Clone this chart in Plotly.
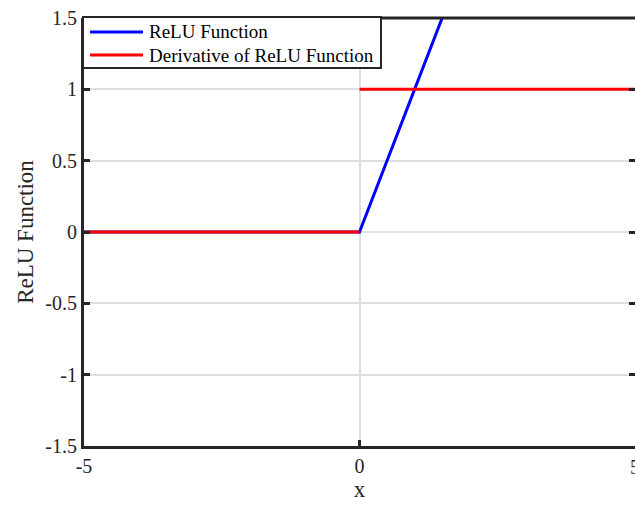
import plotly.graph_objects as go

# ReLU and its derivative, sampled at the breakpoints
x_relu = [-5, 0, 5]
y_relu = [0, 0, 5]

x_deriv = [-5, 0, None, 0, 5]
y_deriv = [0, 0, None, 1, 1]

x_ticks = [-5, 0, 5]
x_tick_text = ["-5", "0", "5"]
y_ticks = [-1.5, -1, -0.5, 0, 0.5, 1, 1.5]
y_tick_text = ["-1.5", "-1", "-0.5", "0", "0.5", "1", "1.5"]

series_names = ["ReLU Function", "Derivative of ReLU Function"]
series_colors = ["#0000ff", "#ff0000"]

FONT = "Liberation Serif"
AX = "#262626"
GRID = "#dfdfdf"

W, H = 635, 507
ML, MR, MT, MB = 84, 0, 18, 61
PW, PH = W - ML - MR, H - MT - MB


def px_x(p):
    return (p - ML) / PW


def px_y(p):
    return (H - MB - p) / PH


fig = go.Figure()
fig.add_trace(go.Scatter(x=x_relu, y=y_relu, mode="lines", name=series_names[0],
                         line=dict(color=series_colors[0], width=3)))
fig.add_trace(go.Scatter(x=x_deriv, y=y_deriv, mode="lines", name=series_names[1],
                         line=dict(color=series_colors[1], width=3), connectgaps=False))
# empty trace carrying the right-hand tick marks
fig.add_trace(go.Scatter(x=[None], y=[None], yaxis="y2", showlegend=False, hoverinfo="skip"))

# boxed legend in the upper-left corner
shapes = [
    dict(type="line", xref="paper", yref="paper", x0=0, x1=1, y0=1, y1=1,
         line=dict(color=AX, width=3), layer="above"),
    dict(type="rect", xref="paper", yref="paper",
         x0=px_x(83), x1=px_x(381), y0=px_y(68), y1=px_y(17),
         fillcolor="white", line=dict(color=AX, width=2), layer="above"),
]
annotations = []
for i, (name, col) in enumerate(zip(series_names, series_colors)):
    yy = px_y(32 + 23 * i)
    shapes.append(dict(type="line", xref="paper", yref="paper",
                       x0=px_x(90), x1=px_x(143), y0=yy, y1=yy,
                       line=dict(color=col, width=3), layer="above"))
    annotations.append(dict(xref="paper", yref="paper", x=px_x(147), y=yy,
                            text=name, showarrow=False, xanchor="left", yanchor="middle",
                            font=dict(family=FONT, size=19, color="black")))

# right-most x tick label, partly beyond the page edge
annotations.append(dict(xref="x", yref="paper", x=x_ticks[-1], y=px_y(467),
                        text=x_tick_text[-1], showarrow=False, xanchor="center",
                        yanchor="middle", font=dict(family=FONT, size=20, color=AX)))

fig.update_layout(
    width=W, height=H,
    margin=dict(l=ML, r=MR, t=MT, b=MB),
    paper_bgcolor="white", plot_bgcolor="white",
    font=dict(family=FONT, color=AX, size=20),
    showlegend=False,
    xaxis=dict(range=[-5, 5], tickvals=x_ticks[:-1], ticktext=x_tick_text[:-1],
               showgrid=True, gridcolor=GRID, gridwidth=2, zeroline=False,
               showline=True, linecolor=AX, linewidth=3, mirror=False,
               ticks="inside", ticklen=6, tickwidth=3, tickcolor=AX,
               title=dict(text="x", font=dict(size=23), standoff=5)),
    yaxis=dict(range=[-1.5, 1.5], tickvals=y_ticks, ticktext=y_tick_text,
               showgrid=True, gridcolor=GRID, gridwidth=2, zeroline=False,
               showline=True, linecolor=AX, linewidth=3, mirror=False,
               ticks="inside", ticklen=6, tickwidth=3, tickcolor=AX,
               title=dict(text="ReLU Function", font=dict(size=23), standoff=6)),
    yaxis2=dict(range=[-1.5, 1.5], tickvals=y_ticks, overlaying="y", side="right",
                anchor="x", showgrid=False, zeroline=False, showline=False,
                showticklabels=False, ticks="inside", ticklen=6, tickwidth=3,
                tickcolor=AX),
    shapes=shapes,
    annotations=annotations,
)

fig.write_html("out.html")
